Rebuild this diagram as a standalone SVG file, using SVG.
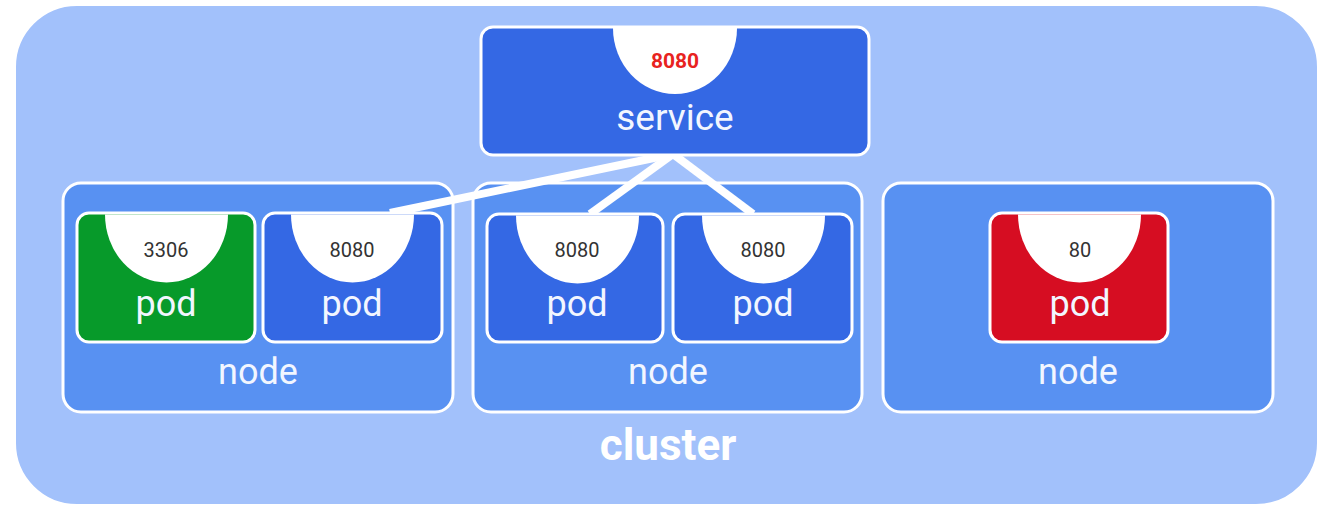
<svg xmlns="http://www.w3.org/2000/svg" width="1331" height="511" viewBox="0 0 1331 511">
<style>
.cluster{fill:#a2c1fb;stroke:#ffffff;stroke-width:2}
.node{fill:#5891f2;stroke:#ffffff;stroke-width:3}
.blue{fill:#3468e4;stroke:#ffffff;stroke-width:3}
.green{fill:#079a2a;stroke:#ffffff;stroke-width:3}
.red{fill:#d60d22;stroke:#ffffff;stroke-width:3}
.port{fill:#ffffff}
.lbl{font-family:Roboto,"Liberation Sans",sans-serif;fill:#f2f6ff;text-anchor:middle}
.big{font-size:36px}
.svc{font-size:37px}
.num{font-family:Roboto,"Liberation Sans",sans-serif;font-size:20px;fill:#333333;text-anchor:middle}
.svcnum{font-family:Roboto,"Liberation Sans",sans-serif;font-size:21px;font-weight:bold;fill:#e8231f;text-anchor:middle}
.title{font-family:Roboto,"Liberation Sans",sans-serif;font-size:44px;font-weight:bold;fill:#ffffff;text-anchor:middle}
.conn{stroke:#ffffff;stroke-width:8;fill:none;stroke-linecap:butt}
</style>
<g id="cluster">
<rect class="cluster" x="15" y="5" width="1303" height="500" rx="62"/>
<text class="title" x="668" y="460">cluster</text>
</g>
<g id="node1">
<rect class="node" x="63" y="183" width="390" height="229" rx="18"/>
<text class="lbl big" x="258" y="384">node</text>
</g>
<g id="node2">
<rect class="node" x="473" y="183" width="389" height="229" rx="18"/>
<text class="lbl big" x="668" y="384">node</text>
</g>
<g id="node3">
<rect class="node" x="883" y="183" width="390" height="229" rx="18"/>
<text class="lbl big" x="1078" y="384">node</text>
</g>
<g id="connectors">
<line class="conn" x1="673" y1="154" x2="390" y2="213"/>
<line class="conn" x1="673" y1="154" x2="590" y2="214"/>
<line class="conn" x1="673" y1="154" x2="753" y2="214"/>
</g>
<g id="service">
<rect class="blue" x="481" y="27" width="388" height="128" rx="12"/>
<path class="port" d="M613 28 A62 66 0 0 0 737 28 Z"/>
<text class="svcnum" x="675" y="68">8080</text>
<text class="lbl svc" x="675" y="130">service</text>
</g>
<g id="pod1">
<rect class="green" x="77" y="213" width="178" height="129" rx="12"/>
<path class="port" d="M105 214.5 A61.5 68 0 0 0 228 214.5 Z"/>
<text class="num" x="166" y="257">3306</text>
<text class="lbl big" x="166" y="316">pod</text>
</g>
<g id="pod2">
<rect class="blue" x="263" y="213" width="179" height="129" rx="12"/>
<path class="port" d="M291 214.5 A61.5 68 0 0 0 414 214.5 Z"/>
<text class="num" x="352" y="257">8080</text>
<text class="lbl big" x="352" y="316">pod</text>
</g>
<g id="pod3">
<rect class="blue" x="487" y="214" width="176" height="128" rx="12"/>
<path class="port" d="M516 215.5 A61.5 68 0 0 0 639 215.5 Z"/>
<text class="num" x="577" y="257">8080</text>
<text class="lbl big" x="577" y="316">pod</text>
</g>
<g id="pod4">
<rect class="blue" x="673" y="214" width="179" height="128" rx="12"/>
<path class="port" d="M702 215.5 A61.5 68 0 0 0 825 215.5 Z"/>
<text class="num" x="763" y="257">8080</text>
<text class="lbl big" x="763" y="316">pod</text>
</g>
<g id="pod5">
<rect class="red" x="990" y="213" width="178" height="129" rx="12"/>
<path class="port" d="M1018 214.5 A61.5 68 0 0 0 1141 214.5 Z"/>
<text class="num" x="1080" y="257">80</text>
<text class="lbl big" x="1080" y="316">pod</text>
</g>
</svg>
